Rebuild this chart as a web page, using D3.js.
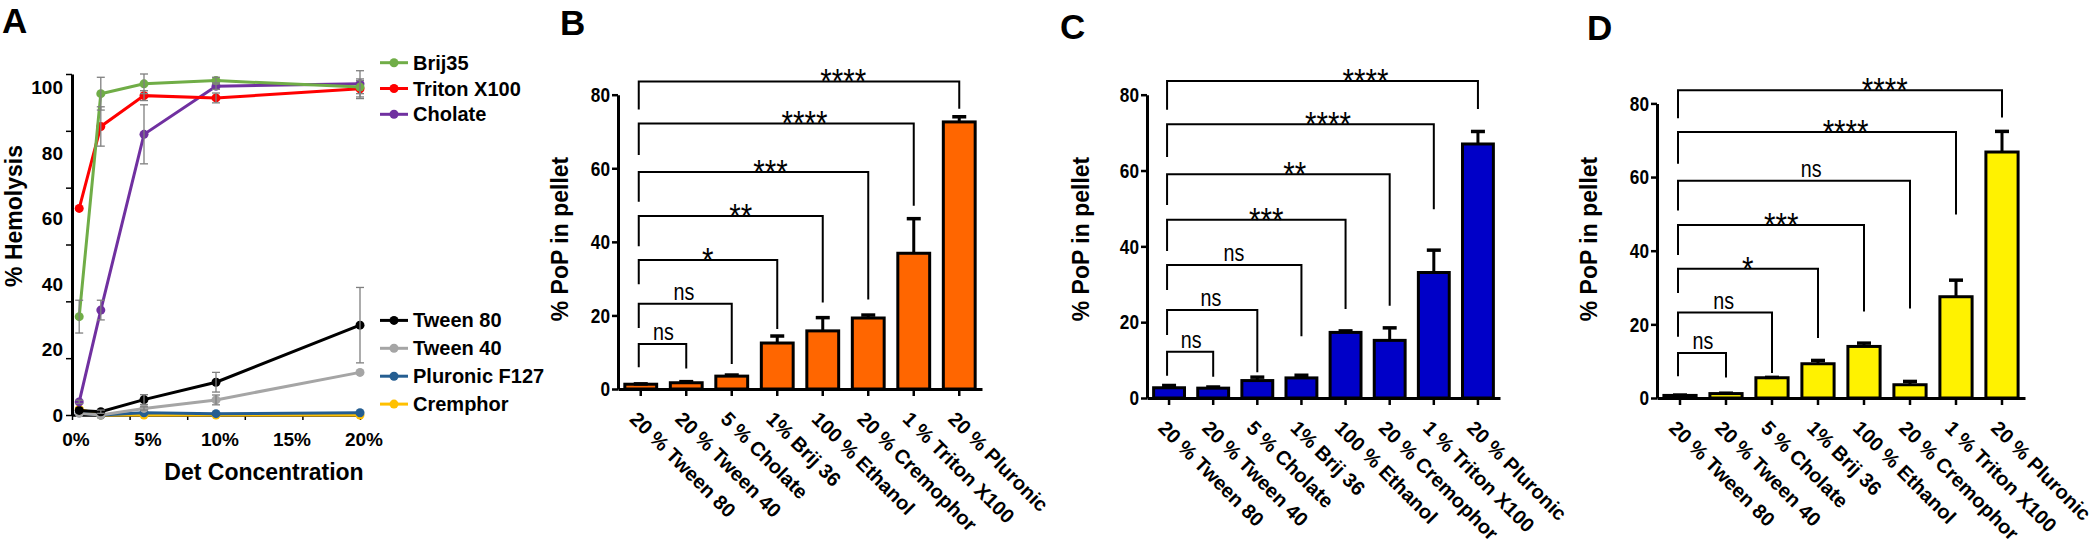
<!DOCTYPE html>
<html>
<head>
<meta charset="utf-8">
<script src="https://cdn.jsdelivr.net/npm/d3@7"></script>
<style>
  body { margin: 0; background: #fff; }
  svg { display: block; font-family: 'Liberation Sans', Arial, sans-serif; }
</style>
</head>
<body>
<svg id="chart" width="2100" height="546"></svg>
<script>
// ---------- Panel A : % hemolysis against detergent concentration ----------
const concentrations = [0.5, 2, 5, 10, 20]
const detergents = ['Brij35', 'Triton X100', 'Cholate', 'Tween 80', 'Tween 40', 'Pluronic F127', 'Cremphor']
const brij35 = [30, 98, 101, 102, 100]
const brij35Err = [5, 5, 3, 1, 2]
const triton = [63, 88, 97.4, 96.7, 99.5]
const tritonErr = [0, 6, 1.5, 1.5, 3]
const cholate = [4, 32, 85.6, 100.3, 101]
const cholateErr = [0.5, 3, 9, 1, 4]
const tween80 = [1.4, 1, 4.7, 10, 27.4]
const tween80Err = [0, 0.5, 1.5, 3, 11.5]
const tween40 = [0.5, 0, 2, 4.6, 13]
const tween40Err = [0, 0, 0.5, 1.5, 0]
const pluronic = [0.7, 0, 0.7, 0.4, 0.7]
const cremphor = [1.8, 0, 0, 0, 0]
const hemolysisTicks = [0, 20, 40, 60, 80, 100]
const concentrationTicks = [0, 5, 10, 15, 20]

// ---------- Panels B, C, D : % PoP in pellet ----------
const conditions = ['20 % Tween 80', '20 % Tween 40', '5 % Cholate', '1% Brij 36',
  '100 % Ethanol', '20 % Cremophor', '1 % Triton X100', '20 % Pluronic']
const pelletB = [1.3, 1.7, 3.5, 12.5, 15.8, 19.3, 36.9, 72.6]
const pelletBErr = [0.1, 0.3, 0.3, 1.9, 3.6, 0.8, 9.4, 1.4]
const pelletC = [2.7, 2.6, 4.6, 5.3, 17.3, 15.2, 33.1, 67]
const pelletCErr = [0.6, 0.3, 0.9, 0.7, 0.4, 3.3, 5.9, 3.3]
const pelletD = [0.7, 1.2, 5.5, 9.3, 14, 3.6, 27.5, 66.8]
const pelletDErr = [0.1, 0.1, 0.1, 0.9, 0.9, 0.9, 4.5, 5.6]
const sigB = ['ns', 'ns', '*', '**', '***', '****', '****']
const sigC = ['ns', 'ns', 'ns', '***', '**', '****', '****']
const sigD = ['ns', 'ns', '*', '***', 'ns', '****', '****']
const pelletTicks = [0, 20, 40, 60, 80]

// Bracket geometry, in % units (same template in all three bar panels)
const bracketLevels = [12.2, 23.2, 35.1, 47, 59, 72.2, 83.6]
const bracketLeftEnds = [5.9, 16.6, 28.5, 38.8, 50.9, 63.6, 76]
const bracketRightEnds = [5.6, 6.8, 16.3, 23.5, 24.3, 49.8, 76.2]

const NARROW = "'Liberation Sans Narrow', 'Arial Narrow', 'Liberation Sans', sans-serif"
const svg = d3.select('#chart')

/**
 * Checks whether a narrow sans is installed; if not, narrow texts get squeezed.
 */
function narrowScale () {
  const t = svg.append('text').style('font-size', '40px').text('80 ns **')
  t.style('font-family', NARROW)
  const a = t.node().getComputedTextLength()
  t.style('font-family', "'Liberation Sans', Arial, sans-serif")
  const b = t.node().getComputedTextLength()
  t.remove()
  return a < b * 0.95 ? 1 : 0.82
}
const squeeze = narrowScale()

/**
 * Draws panel A, the hemolysis line chart with its two legend groups.
 */
function drawHemolysis () {
  const x = d3.scaleLinear().domain([0, 20]).range([72, 360])
  const y = d3.scaleLinear().domain([0, 104]).range([415, 74])
  const g = svg.append('g')

  const series = [
    { name: detergents[6], color: '#ffc000', values: cremphor, errors: [] },
    { name: detergents[5], color: '#255e91', values: pluronic, errors: [] },
    { name: detergents[4], color: '#a5a5a5', values: tween40, errors: tween40Err },
    { name: detergents[3], color: '#000000', values: tween80, errors: tween80Err },
    { name: detergents[2], color: '#7030a0', values: cholate, errors: cholateErr },
    { name: detergents[1], color: '#ff0000', values: triton, errors: tritonErr },
    { name: detergents[0], color: '#70ad47', values: brij35, errors: brij35Err }
  ]

  // Axes (the Excel tick marks don't sit on the labelled values)
  const xAxis = g.append('g').attr('transform', 'translate(0,415)')
    .call(d3.axisBottom(x).tickValues(d3.range(0, 21, 4)).tickSize(5).tickSizeOuter(0).tickFormat(''))
  const yAxis = g.append('g').attr('transform', 'translate(72,0)')
    .call(d3.axisLeft(y).tickValues(d3.range(7).map(i => i * 104 / 6)).tickSize(6).tickSizeOuter(0).tickFormat(''))
  xAxis.select('.domain').attr('stroke-width', 2.5)
  yAxis.select('.domain').attr('stroke-width', 3)
  g.selectAll('.tick line').attr('stroke-width', 1.5)

  g.append('g').selectAll('text').data(hemolysisTicks).join('text')
    .attr('x', 63).attr('y', d => y(d) + 7)
    .attr('text-anchor', 'end')
    .style('font-size', '19px').style('font-weight', 'bold')
    .text(d => d)

  g.append('g').selectAll('text').data(concentrationTicks).join('text')
    .attr('x', d => x(d) + 4).attr('y', 446)
    .attr('text-anchor', 'middle')
    .style('font-size', '19px').style('font-weight', 'bold')
    .text(d => d + '%')

  g.append('text').attr('x', 264).attr('y', 480)
    .attr('text-anchor', 'middle')
    .style('font-size', '23px').style('font-weight', 'bold')
    .text('Det Concentration')

  g.append('text').attr('transform', 'translate(22,216) rotate(-90)')
    .attr('text-anchor', 'middle')
    .style('font-size', '23px').style('font-weight', 'bold')
    .text('% Hemolysis')

  // Lines and markers
  const line = d3.line().x((d, i) => x(concentrations[i])).y(d => y(d))
  series.forEach(s => {
    g.append('path').datum(s.values)
      .attr('d', line).attr('fill', 'none')
      .attr('stroke', s.color).attr('stroke-width', 3)
    g.append('g').selectAll('circle').data(s.values).join('circle')
      .attr('cx', (d, i) => x(concentrations[i])).attr('cy', d => y(d))
      .attr('r', 4.5).attr('fill', s.color)
  })

  // Error bars on top, thin grey like the original
  series.forEach(s => {
    s.errors.forEach((e, i) => {
      if (!e) return
      const cx = x(concentrations[i])
      const v = s.values[i]
      const eg = g.append('g').attr('stroke', '#7f7f7f').attr('stroke-width', 1.3)
      eg.append('line').attr('x1', cx).attr('x2', cx).attr('y1', y(v - e)).attr('y2', y(v + e))
      eg.append('line').attr('x1', cx - 4).attr('x2', cx + 4).attr('y1', y(v - e)).attr('y2', y(v - e))
      eg.append('line').attr('x1', cx - 4).attr('x2', cx + 4).attr('y1', y(v + e)).attr('y2', y(v + e))
    })
  })

  // Legend: two groups at the right of the plot
  const byName = new Map(series.map(s => [s.name, s.color]))
  const legendRows = detergents.map((name, i) => ({
    name,
    y: i < 3 ? 62.7 + i * 25.8 : 320.4 + (i - 3) * 27.9
  }))
  const legend = g.append('g').selectAll('g').data(legendRows).join('g')
    .attr('transform', d => `translate(0,${d.y})`)
  legend.append('line').attr('x1', 380).attr('x2', 408)
    .attr('stroke', d => byName.get(d.name)).attr('stroke-width', 3)
  legend.append('circle').attr('cx', 394).attr('r', 4.5).attr('fill', d => byName.get(d.name))
  legend.append('text').attr('x', 413).attr('y', 7)
    .style('font-size', '20px').style('font-weight', 'bold')
    .text(d => d.name)
}

/**
 * Draws one Prism-style bar panel with error bars and significance brackets.
 *
 * @param {object} cfg Layout of the panel (pixel frame, colour, title position)
 * @param {number[]} values Bar heights
 * @param {number[]} errors Upper error (SD)
 * @param {string[]} sigs Significance labels vs the first condition
 */
function drawPellet (cfg, values, errors, sigs) {
  const g = svg.append('g')
  const x = d3.scaleBand().domain(conditions).range([cfg.x0, cfg.x1])
    .paddingInner(0.3).paddingOuter(0.15)
  const y = d3.scaleLinear().domain([0, 80]).range([cfg.yZero, cfg.yTop])
  const cx = c => x(c) + x.bandwidth() / 2

  // Bars
  g.append('g').selectAll('rect').data(conditions).join('rect')
    .attr('x', c => x(c)).attr('width', x.bandwidth())
    .attr('y', (c, i) => y(values[i]))
    .attr('height', (c, i) => cfg.yZero - y(values[i]))
    .attr('fill', cfg.color).attr('stroke', '#000').attr('stroke-width', 3)

  // Error bars (upper only)
  const eg = g.append('g').attr('stroke', '#000').attr('stroke-width', 3)
  conditions.forEach((c, i) => {
    const top = y(values[i] + errors[i])
    eg.append('line').attr('x1', cx(c)).attr('x2', cx(c)).attr('y1', y(values[i])).attr('y2', top)
    eg.append('line').attr('x1', cx(c) - 7).attr('x2', cx(c) + 7).attr('y1', top).attr('y2', top)
      .attr('stroke-width', 3.5)
  })

  // Axes
  const yAxis = g.append('g').attr('transform', `translate(${cfg.x0},0)`)
    .call(d3.axisLeft(y).tickValues(pelletTicks).tickSize(6).tickSizeOuter(0).tickPadding(2))
  g.append('g').attr('transform', `translate(0,${cfg.yZero})`)
    .call(d3.axisBottom(x).tickSize(7).tickSizeOuter(0).tickFormat(''))
  g.selectAll('.domain').attr('stroke-width', 3)
  g.selectAll('.tick line').attr('stroke-width', 2.5)
  yAxis.selectAll('.tick text')
    .style('font-family', NARROW).style('font-size', '21px').style('font-weight', 'bold')
    .attr('fill', '#000')
    .attr('transform', `translate(-8,0) scale(${squeeze},1) translate(8,0)`)

  // Rotated category labels
  g.append('g').selectAll('text').data(conditions).join('text')
    .attr('transform', c => `translate(${cx(c) - 2},${cfg.yZero + 21}) rotate(45)`)
    .attr('dy', '0.72em')
    .style('font-size', '20px').style('font-weight', 'bold')
    .text(c => c)

  // Significance brackets, all from the first bar
  const labelAt = [0.5, 0.95, 1.47, 2.2, 2.85, 3.6, 4.45]
  const bg = g.append('g').attr('fill', 'none').attr('stroke', '#000').attr('stroke-width', 2)
  sigs.forEach((s, i) => {
    const left = cx(conditions[0]) - 2
    const right = cx(conditions[i + 1])
    const level = y(bracketLevels[i])
    bg.append('path')
      .attr('d', `M${left},${y(bracketLeftEnds[i])}V${level}H${right}V${y(bracketRightEnds[i])}`)
    const isNs = s === 'ns'
    const lx = cx(conditions[0]) + labelAt[i] * x.step()
    const ly = isNs ? level - 4 : level + 12
    g.append('text')
      .attr('transform', `translate(${lx},${ly}) scale(${squeeze},1)`)
      .attr('text-anchor', 'middle')
      .style('font-family', NARROW)
      .style('font-size', isNs ? '24px' : '36px')
      .text(s)
  })

  // Axis title
  g.append('text').attr('transform', `translate(${cfg.titleX},239) rotate(-90)`)
    .attr('text-anchor', 'middle')
    .style('font-size', '23px').style('font-weight', 'bold')
    .text('% PoP in pellet')
}

/**
 * Writes the big panel letter.
 */
function drawLetter (letter, x, y) {
  svg.append('text').attr('x', x).attr('y', y)
    .style('font-size', '35px').style('font-weight', 'bold')
    .text(letter)
}

drawHemolysis()
drawPellet({ x0: 618, x1: 982, yZero: 389, yTop: 94.7, color: '#ff6600', titleX: 568 }, pelletB, pelletBErr, sigB)
drawPellet({ x0: 1147, x1: 1500, yZero: 398, yTop: 94.7, color: '#0000c8', titleX: 1089 }, pelletC, pelletCErr, sigC)
drawPellet({ x0: 1657, x1: 2025, yZero: 398, yTop: 103.4, color: '#fff200', titleX: 1597 }, pelletD, pelletDErr, sigD)
drawLetter('A', 2, 33)
drawLetter('B', 560, 35)
drawLetter('C', 1060, 39)
drawLetter('D', 1587, 40)
</script>
</body>
</html>
